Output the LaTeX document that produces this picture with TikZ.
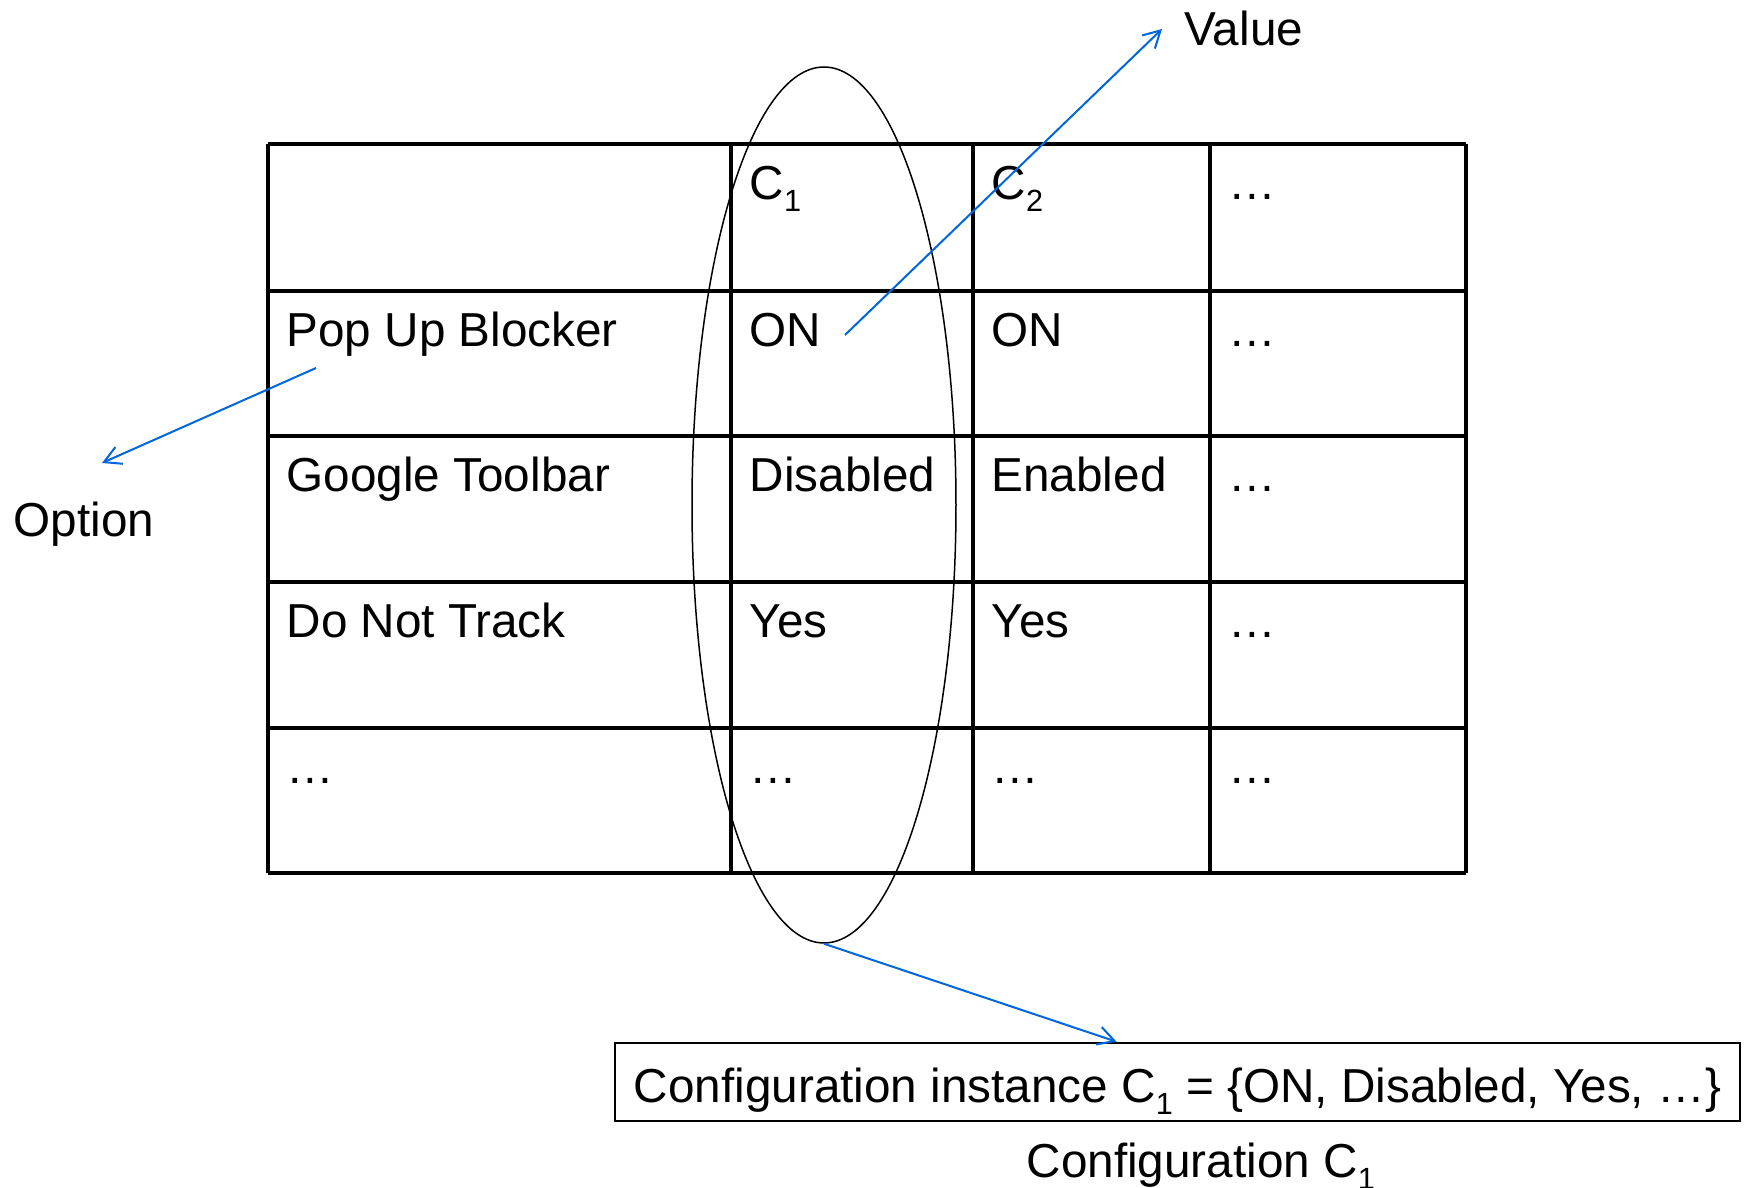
\documentclass[tikz,border=0pt]{standalone}
\usepackage{fontspec}
\setmainfont{Liberation Sans}
\usepackage{tikz}
\usetikzlibrary{positioning,shapes,calc,arrows.meta}
\definecolor{arrowblue}{RGB}{0,102,221}
\newcommand{\csub}[1]{\raisebox{-0.25em}{\fontsize{9.2}{10}\selectfont #1}}

\begin{document}
\begin{tikzpicture}[x=0.3pt,y=-0.3pt,font=\fontsize{14.3}{17}\selectfont]
  \tikzstyle{cell}=[anchor=base west,inner sep=0pt]
  \tikzstyle{grid}=[line width=1pt]
  \tikzstyle{pointer}=[arrowblue,line width=0.6pt,-{Straight Barb[length=5pt,width=5.5pt]}]
  \useasboundingbox (0,0) rectangle (1749,1188);

  % table rules
  \draw[grid] (268,144) -- (1466,144);
  \draw[grid] (268,291) -- (1466,291);
  \draw[grid] (268,436) -- (1466,436);
  \draw[grid] (268,582) -- (1466,582);
  \draw[grid] (268,728) -- (1466,728);
  \draw[grid] (268,873) -- (1466,873);
  \draw[grid] (268,144) -- (268,873);
  \draw[grid] (731,144) -- (731,873);
  \draw[grid] (973,144) -- (973,873);
  \draw[grid] (1210,144) -- (1210,873);
  \draw[grid] (1466,144) -- (1466,873);

  % header
  \draw (749,200) node[cell] (hdrA){C\csub{1}};
  \draw (991,200) node[cell] (hdrB){C\csub{2}};
  \draw (1228,200) node[cell] (hdrC){…};

  \draw (286,347) node[cell] (popup){Pop Up Blocker};
  \draw (749,347) node[cell] (popA){ON};
  \draw (991,347) node[cell] (popB){ON};
  \draw (1228,347) node[cell] (popC){…};

  \draw (286,492) node[cell] (toolbar){Google Toolbar};
  \draw (749,492) node[cell] (tbA){Disabled};
  \draw (991,492) node[cell] (tbB){Enabled};
  \draw (1228,492) node[cell] (tbC){…};

  \draw (286,638) node[cell] (track){Do Not Track};
  \draw (749,638) node[cell] (trA){Yes};
  \draw (991,638) node[cell] (trB){Yes};
  \draw (1228,638) node[cell] (trC){…};

  \draw (286,784) node[cell] (more){…};
  \draw (749,784) node[cell] (moA){…};
  \draw (991,784) node[cell] (moB){…};
  \draw (1228,784) node[cell] (moC){…};

  % column C1 and labels
  \draw (824,505) node[ellipse,draw,line width=0.45pt,minimum width=79.2pt,minimum height=262.8pt,inner sep=0pt] (conf){};

  \draw (1184,46) node[cell] (val){Value};
  \draw (13,537) node[cell] (opt){Option};
  \draw (1177.5,1082) node[draw,line width=0.75pt,minimum width=337.5pt,minimum height=23.4pt,inner sep=0pt,text height=13pt,text depth=0.7pt] (cfgbox){Configuration instance C\csub{1} = \{ON, Disabled, Yes, …\}};
  \draw (1026,1178) node[cell] (cfgname){Configuration C\csub{1}};

  \coordinate (valstart) at (845,335);
  \coordinate (valtip) at (1162,29);
  \coordinate (optstart) at (316,368);
  \coordinate (opttip) at (102,463);

  \draw[pointer] (valstart) -- (valtip);
  \draw[pointer] (optstart) -- (opttip);
  \draw[pointer] (conf.south) -- ($(cfgbox.north west)!0.446!(cfgbox.north east)$);
\end{tikzpicture}
\end{document}
